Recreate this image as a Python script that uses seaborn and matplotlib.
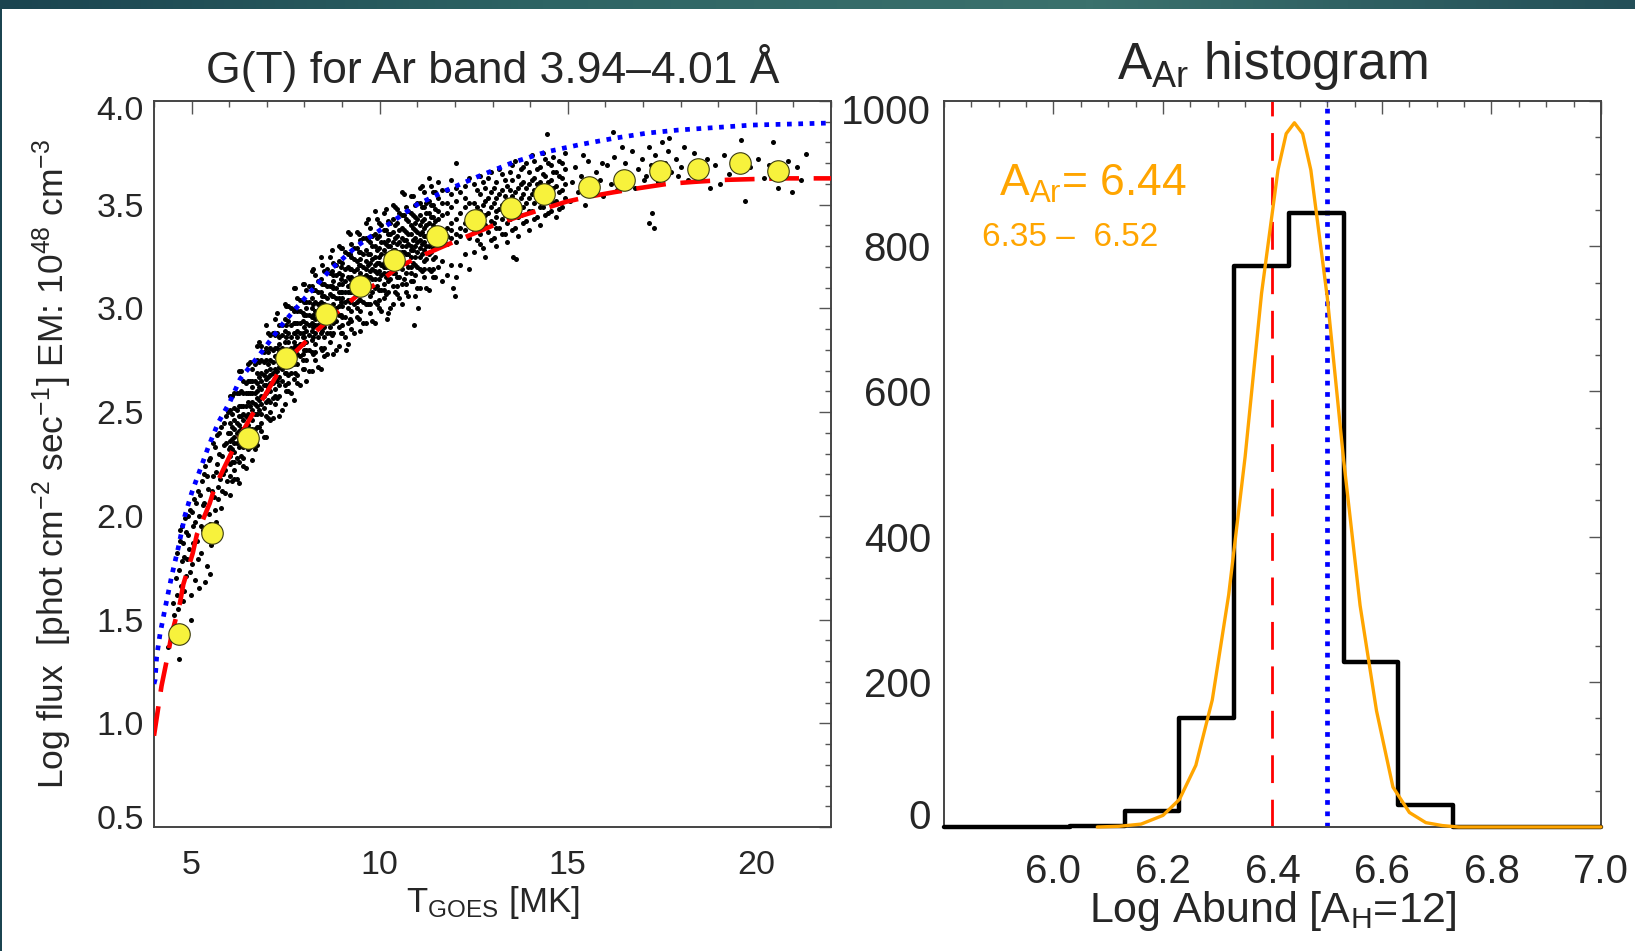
import numpy as np
import pandas as pd
import matplotlib
matplotlib.use("Agg")
import matplotlib.pyplot as plt
import matplotlib.transforms as mtransforms
from matplotlib.colors import LinearSegmentedColormap
from matplotlib.ticker import MultipleLocator
import seaborn as sns

# ---------------- data ----------------
# left panel: binned means (yellow circles)
bin_t = [4.67, 5.55, 6.50, 7.50, 8.56, 9.49, 10.37, 11.53, 12.53, 13.50,
         14.37, 15.56, 16.49, 17.46, 18.46, 19.57, 20.59]
bin_flux = [1.43, 1.915, 2.377, 2.763, 2.973, 3.109, 3.232, 3.349, 3.427, 3.483,
            3.552, 3.587, 3.619, 3.661, 3.670, 3.701, 3.664]

# red dashed G(T) curve
red_t = [4.00, 4.20, 4.38, 4.47, 4.69, 4.78, 5.03, 5.14, 5.48, 5.62, 6.02, 6.24,
         6.62, 6.95, 7.30, 7.70, 8.37, 8.86, 9.39, 10.01, 10.50, 11.07, 11.70,
         12.49, 13.02, 13.65, 14.27, 14.97, 15.60, 16.22, 16.90, 17.63, 18.34,
         19.23, 20.65, 22.00]
red_flux = [0.94, 1.18, 1.34, 1.43, 1.58, 1.67, 1.82, 1.91, 2.06, 2.14, 2.29, 2.37,
            2.49, 2.58, 2.69, 2.78, 2.90, 2.98, 3.06, 3.13, 3.20, 3.25, 3.30,
            3.36, 3.40, 3.44, 3.475, 3.515, 3.54, 3.56, 3.58, 3.60, 3.61,
            3.62, 3.627, 3.627]

# blue dotted G(T) curve
blue_t = [4.00, 4.03, 4.07, 4.16, 4.29, 4.47, 4.65, 4.82, 5.00, 5.22, 5.44, 5.71,
          6.02, 6.29, 6.82, 7.44, 8.06, 8.68, 9.39, 10.19, 10.99, 11.78, 12.67,
          13.56, 14.44, 15.33, 16.22, 17.10, 17.94, 19.90, 22.00]
blue_flux = [1.19, 1.21, 1.32, 1.43, 1.55, 1.71, 1.85, 2.00, 2.11, 2.22, 2.33, 2.45,
             2.55, 2.66, 2.78, 2.93, 3.06, 3.185, 3.30, 3.40, 3.50, 3.57, 3.64,
             3.705, 3.755, 3.79, 3.82, 3.845, 3.86, 3.884, 3.894]

# scattered flare points (T [MK], log flux), estimated from the cloud
cloud_low = [(4.38, 1.37), (4.45, 1.44), (4.52, 1.52), (4.55, 1.41), (4.60, 1.62),
             (4.63, 1.55), (4.66, 1.74), (4.67, 1.31), (4.70, 1.88), (4.72, 1.66),
             (4.75, 1.95), (4.78, 1.59), (4.80, 1.80), (4.83, 1.99), (4.86, 1.71),
             (4.90, 1.91), (4.93, 1.84), (4.97, 2.03), (4.99, 1.50), (5.00, 1.77),
             (5.04, 1.95), (5.07, 2.08), (5.10, 1.69), (5.14, 1.88), (5.17, 2.12),
             (5.19, 1.65), (5.20, 2.00), (5.24, 1.82), (5.27, 2.17), (5.30, 1.93),
             (5.33, 2.06), (5.36, 2.24), (5.40, 1.76), (5.43, 2.13), (5.46, 2.01),
             (5.50, 2.28), (5.52, 1.86), (5.56, 2.19), (5.59, 2.09), (5.62, 2.33),
             (5.65, 1.97), (5.68, 2.25), (5.71, 2.14), (5.74, 2.40), (5.77, 2.04),
             (5.80, 2.29), (5.83, 2.20), (5.86, 2.45), (5.89, 2.11), (5.92, 2.35),
             (5.95, 2.26), (5.98, 2.50), (4.98, 1.62), (5.35, 1.68), (5.48, 1.72)]

cloud_low2 = [(4.50, 1.58), (4.58, 1.70), (4.62, 1.82), (4.68, 1.93), (4.74, 1.78),
              (4.77, 1.87), (4.81, 1.64), (4.84, 1.92), (4.88, 1.79), (4.91, 2.00),
              (4.95, 1.73), (5.02, 2.02), (5.05, 1.87), (5.09, 1.97), (5.12, 2.06),
              (5.16, 1.79), (5.22, 2.10), (5.25, 1.95), (5.29, 2.05), (5.32, 2.20),
              (5.38, 1.90), (5.41, 2.19), (5.45, 2.27), (5.49, 1.96), (5.54, 2.12),
              (5.57, 2.35), (5.61, 2.03), (5.64, 2.21), (5.67, 2.39), (5.70, 2.08),
              (5.73, 2.30), (5.76, 2.18), (5.79, 2.43), (5.82, 2.12), (5.85, 2.34),
              (5.88, 2.22), (5.91, 2.48), (5.94, 2.17), (5.97, 2.40), (6.00, 2.32)]

cloud_core = [
    (6.03, [2.10, 2.19, 2.25, 2.29, 2.33, 2.36, 2.40, 2.45, 2.51, 2.58]),
    (6.13, [2.18, 2.26, 2.31, 2.35, 2.38, 2.42, 2.46, 2.52, 2.59, 2.22]),
    (6.27, [2.16, 2.26, 2.33, 2.37, 2.41, 2.44, 2.48, 2.53, 2.59, 2.70]),
    (6.37, [2.24, 2.33, 2.38, 2.42, 2.46, 2.49, 2.53, 2.59, 2.65, 2.28]),
    (6.51, [2.32, 2.36, 2.44, 2.47, 2.49, 2.55, 2.59, 2.65, 2.73, 2.39]),
    (6.61, [2.27, 2.37, 2.42, 2.46, 2.51, 2.55, 2.59, 2.65, 2.71, 2.62]),
    (6.75, [2.34, 2.43, 2.49, 2.53, 2.57, 2.60, 2.64, 2.69, 2.75, 2.82]),
    (6.85, [2.41, 2.49, 2.54, 2.58, 2.61, 2.65, 2.69, 2.75, 2.82, 2.45]),
    (6.99, [2.38, 2.48, 2.55, 2.59, 2.63, 2.66, 2.70, 2.75, 2.81, 2.92]),
    (7.09, [2.46, 2.55, 2.60, 2.64, 2.68, 2.71, 2.75, 2.81, 2.87, 2.50]),
    (7.23, [2.54, 2.58, 2.66, 2.69, 2.71, 2.77, 2.81, 2.87, 2.95, 2.61]),
    (7.33, [2.48, 2.58, 2.63, 2.67, 2.72, 2.76, 2.80, 2.86, 2.92, 2.83]),
    (7.47, [2.54, 2.63, 2.69, 2.73, 2.77, 2.80, 2.84, 2.89, 2.95, 3.02]),
    (7.57, [2.60, 2.68, 2.73, 2.77, 2.80, 2.84, 2.88, 2.94, 3.01, 2.64]),
    (7.71, [2.56, 2.66, 2.73, 2.77, 2.81, 2.84, 2.88, 2.93, 2.99, 3.10]),
    (7.81, [2.64, 2.73, 2.78, 2.82, 2.86, 2.89, 2.93, 2.99, 3.05, 2.68]),
    (7.95, [2.71, 2.75, 2.83, 2.86, 2.88, 2.94, 2.98, 3.04, 3.12, 2.78]),
    (8.05, [2.65, 2.75, 2.80, 2.84, 2.89, 2.93, 2.97, 3.03, 3.09, 3.00]),
    (8.19, [2.70, 2.79, 2.85, 2.89, 2.93, 2.96, 3.00, 3.05, 3.11, 3.18]),
    (8.29, [2.75, 2.83, 2.88, 2.92, 2.95, 2.99, 3.03, 3.09, 3.16, 2.79]),
    (8.43, [2.71, 2.81, 2.88, 2.92, 2.96, 2.99, 3.03, 3.08, 3.14, 3.25]),
    (8.53, [2.77, 2.86, 2.91, 2.95, 2.99, 3.02, 3.06, 3.12, 3.18, 2.81]),
    (8.67, [2.84, 2.88, 2.96, 2.99, 3.01, 3.07, 3.11, 3.17, 3.25, 2.91]),
    (8.77, [2.78, 2.88, 2.93, 2.97, 3.02, 3.06, 3.10, 3.16, 3.22, 3.13]),
    (8.91, [2.82, 2.91, 2.97, 3.01, 3.05, 3.08, 3.12, 3.17, 3.23, 3.30]),
    (9.01, [2.88, 2.96, 3.01, 3.05, 3.08, 3.12, 3.16, 3.22, 3.29, 2.92]),
    (9.15, [2.83, 2.93, 3.00, 3.04, 3.08, 3.11, 3.15, 3.20, 3.26, 3.37]),
    (9.25, [2.90, 2.99, 3.04, 3.08, 3.12, 3.15, 3.19, 3.25, 3.31, 2.94]),
    (9.39, [2.96, 3.00, 3.08, 3.11, 3.13, 3.19, 3.23, 3.29, 3.37, 3.03]),
    (9.49, [2.89, 2.99, 3.04, 3.08, 3.13, 3.17, 3.21, 3.27, 3.33, 3.24]),
    (9.63, [2.93, 3.02, 3.08, 3.12, 3.16, 3.19, 3.23, 3.28, 3.34, 3.41]),
    (9.73, [2.98, 3.06, 3.11, 3.15, 3.18, 3.22, 3.26, 3.32, 3.39, 3.02]),
    (9.87, [2.93, 3.03, 3.10, 3.14, 3.18, 3.21, 3.25, 3.30, 3.36, 3.47]),
    (9.97, [3.00, 3.09, 3.14, 3.18, 3.22, 3.25, 3.29, 3.35, 3.41, 3.04]),
    (10.11, [3.05, 3.09, 3.17, 3.20, 3.22, 3.28, 3.32, 3.38, 3.46, 3.12]),
    (10.21, [2.98, 3.08, 3.13, 3.17, 3.22, 3.26, 3.30, 3.36, 3.42, 3.33]),
    (10.35, [3.02, 3.11, 3.17, 3.21, 3.25, 3.28, 3.32, 3.37, 3.43, 3.50]),
    (10.45, [3.07, 3.15, 3.20, 3.24, 3.27, 3.31, 3.35, 3.41, 3.48, 3.11]),
    (10.59, [3.02, 3.12, 3.19, 3.23, 3.27, 3.30, 3.34, 3.39, 3.45, 3.56]),
    (10.69, [3.08, 3.17, 3.22, 3.26, 3.30, 3.33, 3.37, 3.43, 3.49, 3.12]),
    (10.83, [3.13, 3.17, 3.25, 3.28, 3.30, 3.36, 3.40, 3.46, 3.54, 3.20]),
    (10.93, [3.06, 3.16, 3.21, 3.25, 3.30, 3.34, 3.38, 3.44, 3.50, 3.41]),
    (11.07, [3.10, 3.19, 3.25, 3.29, 3.33, 3.36, 3.40, 3.45, 3.51, 3.58]),
    (11.17, [3.15, 3.23, 3.28, 3.32, 3.35, 3.39, 3.43, 3.49, 3.56, 3.19]),
    (11.31, [3.09, 3.19, 3.26, 3.30, 3.34, 3.37, 3.41, 3.46, 3.52, 3.63]),
    (11.41, [3.15, 3.24, 3.29, 3.33, 3.37, 3.40, 3.44, 3.50, 3.56, 3.19]),
    (11.55, [3.20, 3.32, 3.35, 3.37, 3.43, 3.47, 3.53, 3.61]),
    (11.65, [3.13, 3.23, 3.32, 3.37, 3.45, 3.51, 3.57]),
    (11.79, [3.16, 3.31, 3.35, 3.39, 3.46, 3.51, 3.57]),
    (11.89, [3.21, 3.34, 3.38, 3.41, 3.49, 3.55, 3.62]),
    (12.03, [3.15, 3.32, 3.36, 3.43, 3.52, 3.58]),
    (12.13, [3.21, 3.35, 3.39, 3.46, 3.56]),
    (12.27, [3.26, 3.38, 3.41, 3.49, 3.53, 3.59]),
    (12.37, [3.19, 3.34, 3.43, 3.51, 3.63]),
]

cloud_core2 = [
    (6.08, [2.17, 2.26, 2.32, 2.37, 2.43, 2.49, 2.58]),
    (6.20, [2.18, 2.28, 2.35, 2.40, 2.45, 2.51, 2.59]),
    (6.32, [2.29, 2.37, 2.42, 2.48, 2.53, 2.60, 2.70]),
    (6.44, [2.23, 2.37, 2.43, 2.48, 2.53, 2.59, 2.64]),
    (6.56, [2.33, 2.42, 2.48, 2.53, 2.59, 2.65, 2.74]),
    (6.68, [2.32, 2.42, 2.49, 2.54, 2.59, 2.65, 2.73]),
    (6.80, [2.43, 2.51, 2.56, 2.62, 2.67, 2.74, 2.84]),
    (6.92, [2.38, 2.52, 2.58, 2.63, 2.68, 2.74, 2.79]),
    (7.04, [2.47, 2.56, 2.62, 2.67, 2.73, 2.79, 2.88]),
    (7.16, [2.47, 2.57, 2.64, 2.69, 2.74, 2.80, 2.88]),
    (7.28, [2.57, 2.65, 2.70, 2.76, 2.81, 2.88, 2.98]),
    (7.40, [2.51, 2.65, 2.71, 2.76, 2.81, 2.87, 2.92]),
    (7.52, [2.60, 2.69, 2.75, 2.80, 2.86, 2.92, 3.01]),
    (7.64, [2.59, 2.69, 2.76, 2.81, 2.86, 2.92, 3.00]),
    (7.76, [2.69, 2.77, 2.82, 2.88, 2.93, 3.00, 3.10]),
    (7.88, [2.63, 2.77, 2.83, 2.88, 2.93, 2.99, 3.04]),
    (8.00, [2.71, 2.80, 2.86, 2.91, 2.97, 3.03, 3.12]),
    (8.12, [2.70, 2.80, 2.87, 2.92, 2.97, 3.03, 3.11]),
    (8.24, [2.78, 2.86, 2.91, 2.97, 3.02, 3.09, 3.19]),
    (8.36, [2.72, 2.86, 2.92, 2.97, 3.02, 3.08, 3.13]),
    (8.48, [2.80, 2.89, 2.95, 3.00, 3.06, 3.12, 3.21]),
    (8.60, [2.78, 2.88, 2.95, 3.00, 3.05, 3.11, 3.19]),
    (8.72, [2.87, 2.95, 3.00, 3.06, 3.11, 3.18, 3.28]),
    (8.84, [2.80, 2.94, 3.00, 3.05, 3.10, 3.16, 3.21]),
    (8.96, [2.88, 2.97, 3.03, 3.08, 3.14, 3.20, 3.29]),
    (9.08, [2.86, 2.96, 3.03, 3.08, 3.13, 3.19, 3.27]),
    (9.20, [2.95, 3.03, 3.08, 3.14, 3.19, 3.26, 3.36]),
    (9.32, [2.88, 3.02, 3.08, 3.13, 3.18, 3.24, 3.29]),
    (9.44, [2.95, 3.04, 3.10, 3.15, 3.21, 3.27, 3.36]),
    (9.56, [2.93, 3.03, 3.10, 3.15, 3.20, 3.26, 3.34]),
    (9.68, [3.02, 3.10, 3.15, 3.21, 3.26, 3.33, 3.43]),
    (9.80, [2.94, 3.08, 3.14, 3.19, 3.24, 3.30, 3.35]),
    (9.92, [3.02, 3.11, 3.17, 3.22, 3.28, 3.34, 3.43]),
    (10.04, [2.99, 3.09, 3.16, 3.21, 3.26, 3.32, 3.40]),
    (10.16, [3.07, 3.15, 3.20, 3.26, 3.31, 3.38, 3.48]),
    (10.28, [3.00, 3.14, 3.20, 3.25, 3.30, 3.36, 3.41]),
    (10.40, [3.08, 3.17, 3.23, 3.28, 3.34, 3.40, 3.49]),
    (10.52, [3.05, 3.15, 3.22, 3.27, 3.32, 3.38, 3.46]),
    (10.64, [3.14, 3.22, 3.27, 3.33, 3.38, 3.45, 3.55]),
    (10.76, [3.06, 3.20, 3.26, 3.31, 3.36, 3.42, 3.47]),
    (10.88, [3.13, 3.22, 3.28, 3.33, 3.39, 3.45, 3.54]),
    (11.00, [3.10, 3.20, 3.27, 3.32, 3.37, 3.43, 3.51]),
    (11.12, [3.18, 3.26, 3.31, 3.37, 3.42, 3.49, 3.59]),
    (11.24, [3.10, 3.24, 3.30, 3.35, 3.40, 3.46, 3.51]),
    (11.36, [3.18, 3.27, 3.33, 3.38, 3.44, 3.50, 3.59]),
    (11.48, [3.15, 3.25, 3.32, 3.37, 3.42, 3.48, 3.56]),
]

cloud_mid = [
    (12.52, [3.27, 3.38, 3.44, 3.51, 3.60]),
    (12.66, [3.31, 3.41, 3.47, 3.55, 3.64, 3.36]),
    (12.81, [3.25, 3.40, 3.45, 3.52, 3.58]),
    (12.95, [3.33, 3.42, 3.49, 3.56, 3.66]),
    (13.10, [3.30, 3.44, 3.47, 3.53, 3.61, 3.39]),
    (13.24, [3.36, 3.43, 3.50, 3.57, 3.65]),
    (13.39, [3.32, 3.46, 3.52, 3.59, 3.41]),
    (13.53, [3.38, 3.47, 3.54, 3.62, 3.69]),
    (13.68, [3.35, 3.44, 3.51, 3.58, 3.64]),
    (13.82, [3.41, 3.49, 3.55, 3.61, 3.68]),
    (13.97, [3.38, 3.47, 3.53, 3.60, 3.66]),
    (14.11, [3.43, 3.51, 3.57, 3.63, 3.71]),
    (14.26, [3.40, 3.49, 3.55, 3.61, 3.68]),
    (14.40, [3.45, 3.53, 3.58, 3.64, 3.72]),
    (14.55, [3.47, 3.55, 3.62, 3.69]),
    (14.69, [3.44, 3.52, 3.59, 3.66]),
    (14.84, [3.49, 3.57, 3.63, 3.70]),
]

cloud_mid2 = [
    (12.59, [3.33, 3.42, 3.49, 3.57]),
    (12.74, [3.29, 3.44, 3.50, 3.61]),
    (12.88, [3.37, 3.46, 3.53, 3.63]),
    (13.03, [3.34, 3.41, 3.51, 3.58]),
    (13.17, [3.39, 3.48, 3.55, 3.67]),
    (13.32, [3.36, 3.45, 3.54, 3.62]),
    (13.46, [3.43, 3.50, 3.57, 3.66]),
    (13.61, [3.39, 3.49, 3.56, 3.71]),
    (13.75, [3.45, 3.53, 3.60, 3.67]),
    (13.90, [3.42, 3.51, 3.58, 3.70]),
    (14.04, [3.47, 3.55, 3.62, 3.74]),
    (14.18, [3.44, 3.53, 3.60, 3.67]),
    (14.33, [3.49, 3.57, 3.65, 3.75]),
    (14.48, [3.46, 3.54, 3.61, 3.70]),
    (14.62, [3.51, 3.58, 3.66, 3.73]),
    (14.77, [3.48, 3.56, 3.64, 3.71]),
    (14.92, [3.53, 3.60, 3.67, 3.75]),
]

cloud_high = [(15.05, 3.52), (15.12, 3.61), (15.20, 3.68), (15.28, 3.56), (15.35, 3.64),
              (15.47, 3.50), (15.55, 3.71), (15.62, 3.59), (15.74, 3.66), (15.85, 3.62),
              (15.93, 3.54), (16.05, 3.69), (16.14, 3.60), (16.22, 3.73), (16.31, 3.57),
              (16.40, 3.65), (16.52, 3.70), (16.60, 3.62), (16.71, 3.76), (16.80, 3.58),
              (16.88, 3.67), (16.97, 3.72), (17.08, 3.64), (17.15, 3.78), (17.22, 3.69),
              (17.33, 3.74), (17.41, 3.61), (17.50, 3.80), (17.58, 3.70), (17.66, 3.76),
              (17.75, 3.66), (17.88, 3.72), (18.02, 3.68), (18.20, 3.62), (18.36, 3.75),
              (18.55, 3.66), (18.70, 3.72), (18.78, 3.58), (18.92, 3.69), (19.15, 3.74),
              (19.30, 3.65), (19.45, 3.71), (19.60, 3.81), (19.72, 3.52), (19.85, 3.68),
              (20.05, 3.72), (20.22, 3.63), (20.35, 3.69), (20.45, 3.80), (20.60, 3.58),
              (20.72, 3.66), (20.85, 3.71), (20.96, 3.56), (21.10, 3.68), (21.20, 3.62),
              (21.34, 3.745), (15.40, 3.74), (15.90, 3.70), (16.45, 3.78), (17.02, 3.62),
              (17.45, 3.68), (17.70, 3.82), (17.92, 3.64), (18.10, 3.78), (19.05, 3.60)]

cloud_out = [(10.92, 2.92), (11.02, 3.00), (10.20, 2.95), (9.10, 2.80), (11.95, 3.10),
             (12.00, 3.06), (13.55, 3.25), (13.62, 3.24), (14.46, 3.84), (12.03, 3.70),
             (17.17, 3.41), (17.30, 3.39), (17.24, 3.46), (16.20, 3.85)]

# right panel: abundance histogram
hist_edges = [5.80, 5.93, 6.03, 6.13, 6.23, 6.33, 6.43, 6.53, 6.63, 6.73, 7.00]
hist_counts = [0, 0, 2, 22, 150, 773, 846, 227, 30, 0]

# orange gaussian fit
fit_x = [6.08, 6.12, 6.16, 6.20, 6.23, 6.26, 6.29, 6.32, 6.35, 6.38, 6.41, 6.425,
         6.44, 6.455, 6.47, 6.50, 6.53, 6.56, 6.59, 6.62, 6.65, 6.68, 6.71, 6.74,
         6.80, 7.00]
fit_y = [0, 1, 4, 16, 38, 85, 175, 320, 510, 735, 905, 955,
         970, 955, 905, 730, 505, 305, 160, 55, 20, 6, 2, 0,
         0, 0]

abund_fit = 6.44
abund_lo, abund_hi = 6.35, 6.52
line_red = 6.40
line_blue = 6.50

# ---------------- style ----------------
sns.set_theme(style="white")
plt.rcParams["font.family"] = ["Liberation Sans", "DejaVu Sans"]
plt.rcParams["mathtext.fontset"] = "custom"
plt.rcParams["mathtext.rm"] = "Liberation Sans"
plt.rcParams["mathtext.it"] = "Liberation Sans:italic"
plt.rcParams["mathtext.default"] = "regular"

W, H = 1635, 951
fig = plt.figure(figsize=(W / 100, H / 100), dpi=100)
fig.patch.set_facecolor("white")

# slide frame (dark teal bar on top, thin strip on left)
bar = fig.add_axes([0, 1 - 9 / H, 1, 9 / H])
cmap = LinearSegmentedColormap.from_list("frame", ["#1b4450", "#2e6464", "#3b716d", "#244f58"])
bar.imshow(np.linspace(0, 1, 256)[None, :], aspect="auto", cmap=cmap)
bar.set_axis_off()
strip = fig.add_axes([0, 0, 2 / W, 1])
strip.set_facecolor("#1b4450")
strip.set_xticks([]); strip.set_yticks([])
for s in strip.spines.values():
    s.set_visible(False)

ax1 = fig.add_axes([154 / W, 1 - 827 / H, 677 / W, 726 / H])
ax2 = fig.add_axes([944 / W, 1 - 827 / H, 657 / W, 726 / H])

# ---------------- left panel ----------------
def expand(cols):
    return [(t, v) for t, vs in cols for v in vs]

cloud = pd.DataFrame(cloud_low + cloud_low2 + expand(cloud_core) + expand(cloud_core2)
                     + expand(cloud_mid) + expand(cloud_mid2) + cloud_high + cloud_out,
                     columns=["T", "flux"])
sns.scatterplot(data=cloud, x="T", y="flux", ax=ax1, color="black", s=13,
                linewidth=0, legend=False, zorder=2)
sns.lineplot(x=blue_t, y=blue_flux, ax=ax1, color="#0000ff", lw=3.4,
             linestyle=(0, (1, 1.4)), sort=False, estimator=None, zorder=3)
sns.lineplot(x=red_t, y=red_flux, ax=ax1, color="#ff0000", lw=3.3,
             linestyle=(0, (6.5, 3.2)), sort=False, estimator=None, zorder=4)
sns.scatterplot(x=bin_t, y=bin_flux, ax=ax1, s=240, color="#f7f23c",
                edgecolor="#3a3a10", linewidth=0.8, zorder=5, legend=False)

ax1.set_xlim(4, 22)
ax1.set_ylim(0.5, 4.0)
ax1.set_xticks([5, 10, 15, 20])
ax1.set_xticklabels(["5", "10", "15", "20"])
ax1.xaxis.set_minor_locator(MultipleLocator(1))
ax1.set_yticks([0.5, 1.0, 1.5, 2.0, 2.5, 3.0, 3.5, 4.0])
ax1.set_yticklabels(["0.5", "1.0", "1.5", "2.0", "2.5", "3.0", "3.5", "4.0"])
ax1.yaxis.set_minor_locator(MultipleLocator(0.1))
ax1.set_title("G(T) for Ar band 3.94\u20134.01 \u00c5", fontsize=32, pad=13)
ax1.set_xlabel(r"T$_{\rm GOES}$ [MK]", fontsize=25)
ax1.set_ylabel(r"Log flux  [phot cm$^{-2}$ sec$^{-1}$] EM: 10$^{48}$ cm$^{-3}$", fontsize=25.5)
ax1.xaxis.set_label_coords(0.5, -0.078)
ax1.yaxis.set_label_coords(-0.118, 0.5)
ax1.xaxis.label.set_va("top")

# ---------------- right panel ----------------
sns.histplot(x=[(a + b) / 2 for a, b in zip(hist_edges[:-1], hist_edges[1:])],
             weights=hist_counts, bins=hist_edges, element="step", fill=False,
             color="black", linewidth=3.2, ax=ax2, clip_on=False, zorder=3)
ax2.axvline(line_red, color="#ff0000", lw=2.0, linestyle=(0, (10, 6)), zorder=2)
ax2.axvline(line_blue, color="#0000ff", lw=3.4, linestyle=(0, (1, 1.4)), zorder=2)
sns.lineplot(x=fit_x, y=fit_y, ax=ax2, color="#ffa500", lw=2.4, sort=False,
             estimator=None, zorder=4, clip_on=False)

ax2.set_xlim(5.8, 7.0)
ax2.set_ylim(0, 1000)
ax2.set_xticks([6.0, 6.2, 6.4, 6.6, 6.8, 7.0])
ax2.set_xticklabels(["6.0", "6.2", "6.4", "6.6", "6.8", "7.0"])
ax2.xaxis.set_minor_locator(MultipleLocator(0.05))
ax2.set_yticks([0, 200, 400, 600, 800, 1000])
ax2.set_yticklabels(["0", "200", "400", "600", "800", "1000"])
ax2.yaxis.set_minor_locator(MultipleLocator(50))
ax2.set_title(r"A$_{\rm Ar}$ histogram", fontsize=37, pad=16)
ax2.set_xlabel(r"Log Abund [A$_{\rm H}$=12]", fontsize=31)
ax2.set_ylabel("")
ax2.xaxis.set_label_coords(0.5, -0.085)
ax2.xaxis.label.set_va("top")

ax2.text(0.0837, 0.869, r"A$_{\rm Ar}$= %.2f" % abund_fit, transform=ax2.transAxes,
         color="#ffa500", fontsize=32, va="baseline", ha="left")
ax2.text(0.0578, 0.800, "%.2f \u2013  %.2f" % (abund_lo, abund_hi), transform=ax2.transAxes,
         color="#ffa500", fontsize=24, va="baseline", ha="left")

# IDL-like frame: ticks inside on all four sides
for ax, fs, xpad, ypad in ((ax1, 24.5, 16.5, 7.2), (ax2, 29, 18.7, 9.4)):
    for s in ax.spines.values():
        s.set_color("#444444")
        s.set_linewidth(1.4)
    ax.tick_params(which="both", direction="in", top=True, right=True,
                   color="#555555", width=1.0)
    ax.tick_params(which="major", length=9)
    ax.tick_params(which="minor", length=4.5)
    ax.tick_params(axis="x", which="major", labelsize=fs, pad=xpad)
    ax.tick_params(axis="y", which="major", labelsize=fs, pad=ypad)
    ax.grid(False)

def nudge(label, dy_px):
    label.set_transform(label.get_transform() +
                        mtransforms.ScaledTranslation(0, dy_px / 100, fig.dpi_scale_trans))

yl1 = ax1.get_yticklabels()
nudge(yl1[-1], -7)
nudge(yl1[0], 10)
yl2 = ax2.get_yticklabels()
nudge(yl2[-1], -8)
nudge(yl2[0], 13)

fig.savefig("out.png", dpi=100)
